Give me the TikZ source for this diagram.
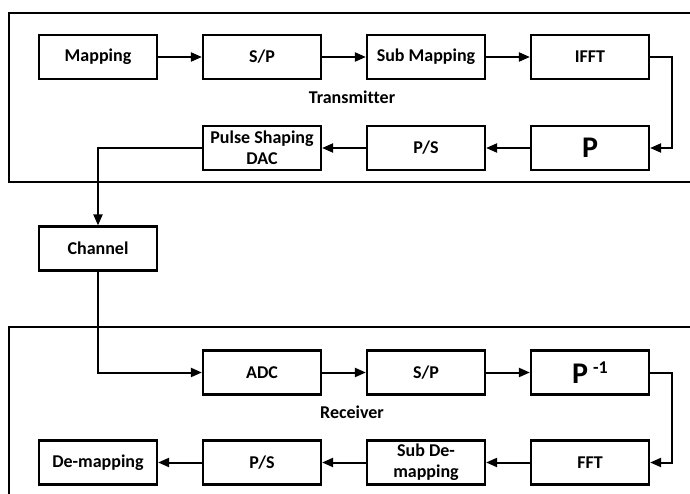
\documentclass[tikz,border=0pt]{standalone}
\usepackage{fontspec}
\setmainfont[Ligatures=NoCommon]{Carlito}
\usetikzlibrary{arrows.meta}
\begin{document}
\begin{tikzpicture}[x=1pt,y=-1pt,
  blk/.style={draw, line width=2.2pt, minimum width=118pt, minimum height=44pt, inner sep=0pt, align=center,
    font=\bfseries\fontsize{18}{21}\selectfont},
  conn/.style={line width=2pt, -{Triangle[length=11pt,width=9pt]}},
  frame/.style={line width=2.2pt},
  lbl/.style={font=\bfseries\fontsize{18}{21}\selectfont, inner sep=0pt}]
\useasboundingbox (0,0) rectangle (690,494);
\clip (0,0) rectangle (690,494);
% frames
\draw[frame] (700,13) -- (9,13) -- (9,182) -- (700,182);
\draw[frame] (700,327) -- (9,327) -- (9,510);
% transmitter
\node[blk] (map) at (98,57) {Mapping};
\node[blk] (sp1) at (262,57) {S/P};
\node[blk] (smap) at (426,57) {Sub Mapping};
\node[blk] (ifft) at (590,57) {IFFT};
\node[blk] (pmat) at (590,148) {\fontsize{30}{30}\selectfont P};
\node[blk] (ps1) at (426,148) {P/S};
\node[blk] (psd) at (262,148) {Pulse Shaping\\DAC};
\node[lbl] (tx) at (352,97) {Transmitter};
% channel
\node[blk] (ch) at (98,248.5) {Channel};
% receiver
\node[blk] (adc) at (262,372.5) {ADC};
\node[blk] (sp2) at (426,372.5) {S/P};
\node[blk] (pinv) at (590,372.5) {\fontsize{30}{30}\selectfont P\,\raisebox{10pt}{\fontsize{18}{21}\selectfont -1}};
\node[blk] (fft) at (590,462.5) {FFT};
\node[blk] (sdm) at (426,462.5) {Sub De-\\mapping};
\node[blk] (ps2) at (262,462.5) {P/S};
\node[blk] (dmap) at (98,462.5) {De-mapping};
\node[lbl] (rx) at (352,412) {Receiver};
% connectors
\draw[conn] (map) -- (sp1);
\draw[conn] (sp1) -- (smap);
\draw[conn] (smap) -- (ifft);
\draw[conn] (ifft.east) -- ++(22,0) |- (pmat.east);
\draw[conn] (pmat) -- (ps1);
\draw[conn] (ps1) -- (psd);
\draw[conn] (psd.west) -| (ch.north);
\draw[conn] (ch.south) |- (adc.west);
\draw[conn] (adc) -- (sp2);
\draw[conn] (sp2) -- (pinv);
\draw[conn] (pinv.east) -- ++(22,0) |- (fft.east);
\draw[conn] (fft) -- (sdm);
\draw[conn] (sdm) -- (ps2);
\draw[conn] (ps2) -- (dmap);
\end{tikzpicture}
\end{document}
